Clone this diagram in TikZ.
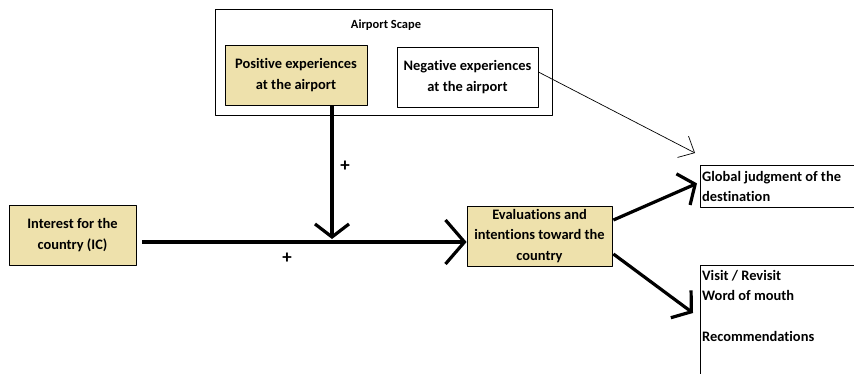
\documentclass[tikz,border=0pt]{standalone}
\usepackage{fontspec}
\setmainfont{Carlito}[RawFeature=-liga]
\usetikzlibrary{arrows.meta}
\definecolor{boxtan}{RGB}{238,225,172}
\tikzset{
  factor/.style={draw,line width=0.8bp,minimum height=60bp,align=center,inner sep=1bp,
    font=\bfseries\fontsize{14.5}{20.5}\selectfont},
  outcome/.style={draw,line width=0.8bp,anchor=north west,minimum width=200bp},
  fat/.style={line width=3.2bp,-{Straight Barb[length=13bp,width=34bp,line width=3.2bp]}},
}
\begin{document}
\begin{tikzpicture}[x=1bp,y=-1bp,line join=bevel]
\useasboundingbox (0,0) rectangle (854,373);
\clip (0,0) rectangle (854,373);
%%
\node (node_scape) at (383.5,62) [draw,line width=0.8bp,minimum width=337bp,minimum height=106bp] {};
\node (node_scapetitle) at (386,25) [font=\bfseries\fontsize{12.5}{14}\selectfont] {Airport Scape};
  \node (node_pos) at (296,75) [factor,fill=boxtan,minimum width=142bp] {Positive experiences\\at the airport};
  \node (node_neg) at (467.5,77) [factor,minimum width=141bp] {Negative experiences\\at the airport};
  \node (node_ic) at (72.5,235) [factor,fill=boxtan,minimum width=127bp] {Interest for the\\country (IC)};
  \node (node_eval) at (539.5,236) [factor,fill=boxtan,minimum width=145bp] {Evaluations and\\intentions toward the\\country};
  \node (node_glob) at (700,165) [outcome,minimum height=42bp] {};
  \node (node_globtext) at (node_glob.west) [anchor=west,align=left,inner sep=2bp,
    font=\bfseries\fontsize{14.5}{20}\selectfont] {Global judgment of the\\destination};
  \node (node_act) at (700,265) [outcome,minimum height=130bp] {};
  \node (node_acttext) at ([yshift=-3bp]node_act.north west) [anchor=north west,align=left,inner sep=2bp,
    font=\bfseries\fontsize{14.5}{20.5}\selectfont] {Visit / Revisit\\Word of mouth\\[20.5bp]Recommendations};
%
\coordinate (join) at (332,242);
\coordinate (neg_end) at (695,153);
\coordinate (act_in) at (693,313);
  \draw [fat] (join |- node_pos.south) -- ([yshift=3bp]join);
  \draw [fat,-{Straight Barb[length=19bp,width=44bp,line width=3.2bp]}] ([xshift=6bp]node_ic.east |- join) -- (node_eval.west |- join);
  \draw [fat] ([xshift=1bp,yshift=16bp]node_eval.east) -- ([xshift=-3bp,yshift=3bp]node_glob.west);
  \draw [fat] ([xshift=1bp,yshift=-18bp]node_eval.east) -- (act_in);
  \draw [line width=0.7bp,-{Straight Barb[length=13bp,width=24bp,line width=0.7bp]}] ([yshift=5bp]node_neg.east) -- (neg_end);
\node (node_plus1) at (345,166) [font=\bfseries\fontsize{19}{20}\selectfont] {+};
\node (node_plus2) at (287,258) [font=\bfseries\fontsize{19}{20}\selectfont] {+};
%
\end{tikzpicture}
\end{document}
